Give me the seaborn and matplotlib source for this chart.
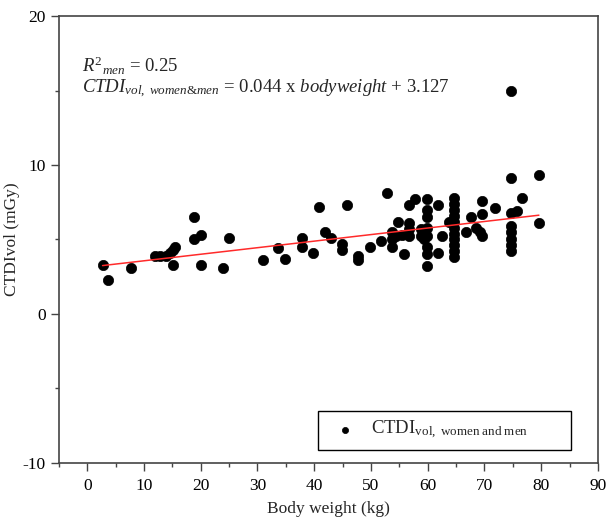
import numpy as np
import pandas as pd
import matplotlib
matplotlib.use("Agg")
import matplotlib.pyplot as plt
import seaborn as sns
from matplotlib.ticker import MultipleLocator
from matplotlib.mathtext import MathTextParser

# ---- data ----
body_weight = [2.7, 3.7, 7.7, 11.9, 12.8, 13.9, 14.6, 15.1, 15.4, 15.1,
               18.8, 18.8, 20.0, 20.0, 24.9, 23.9, 30.9, 33.7, 34.9, 37.9,
               37.9, 39.8, 40.9, 41.9, 43.0, 44.9, 44.9, 45.8, 47.7, 47.7,
               49.8, 51.8, 52.8, 53.7, 53.7, 53.7, 54.7, 55.8, 54.5, 55.5,
               56.7, 57.7, 56.7, 56.7, 56.7, 58.8, 58.8, 59.3, 59.8, 59.8,
               59.8, 59.8, 59.8, 59.8, 59.8, 59.8, 61.8, 61.8, 62.6, 63.7,
               64.7, 64.7, 64.7, 64.7, 64.7, 64.7, 64.7, 64.7, 64.7, 64.7,
               64.7, 66.7, 67.7, 68.6, 69.6, 69.6, 69.6, 69.3, 71.8, 74.7,
               74.7, 74.7, 74.7, 74.7, 74.7, 74.7, 75.8, 76.7, 79.6, 79.6,
               74.7]
ctdi_vol = [3.3, 2.3, 3.1, 3.9, 3.9, 3.9, 4.1, 4.3, 4.5, 3.3,
            6.5, 5.0, 5.3, 3.3, 5.1, 3.1, 3.6, 4.4, 3.7, 5.1,
            4.5, 4.1, 7.2, 5.5, 5.1, 4.7, 4.3, 7.3, 3.9, 3.6,
            4.5, 4.9, 8.1, 5.5, 5.0, 4.5, 6.2, 4.0, 5.2, 5.3,
            7.3, 7.7, 6.1, 5.7, 5.2, 5.7, 5.2, 5.0, 7.7, 7.0,
            6.5, 5.8, 5.2, 4.5, 4.0, 3.2, 7.3, 4.1, 5.2, 6.2,
            7.8, 7.4, 7.0, 6.6, 6.2, 5.8, 5.4, 5.0, 4.6, 4.2,
            3.8, 5.5, 6.5, 5.8, 7.6, 6.7, 5.2, 5.5, 7.1, 9.1,
            6.8, 5.9, 5.5, 5.0, 4.6, 4.2, 6.9, 7.8, 9.3, 6.1,
            15.0]
slope = 0.044
intercept = 3.127
r2_men = 0.25

x_ticks = [0, 10, 20, 30, 40, 50, 60, 70, 80, 90]
y_ticks = [-10, 0, 10, 20]

df = pd.DataFrame({"Body weight (kg)": body_weight, "CTDIvol (mGy)": ctdi_vol})

sns.set_style("ticks")
plt.rcParams["font.family"] = ["Liberation Serif", "DejaVu Serif"]
plt.rcParams["mathtext.fontset"] = "custom"
plt.rcParams["mathtext.rm"] = "Liberation Serif"
plt.rcParams["mathtext.it"] = "Liberation Serif:italic"
plt.rcParams["mathtext.bf"] = "Liberation Serif:bold"
plt.rcParams["axes.unicode_minus"] = False


def ok(s):
    try:
        MathTextParser("agg").parse(s, 72)
        return True
    except Exception:
        return False


sub_candidates = [r"$CTDI_{vol,\ women&men}$",
                  r"$CTDI_{vol,\ women\&men}$",
                  r"$CTDI_{vol,\ women\ and\ men}$"]
eq_lhs = next(c for c in sub_candidates if ok(c))

fig = plt.figure(figsize=(6.07, 5.2), dpi=100)
ax = fig.add_axes([0.097, 0.110, 0.888, 0.859])

sns.scatterplot(data=df, x="Body weight (kg)", y="CTDIvol (mGy)", ax=ax,
                color="black", edgecolor="black", s=55, linewidth=0.5,
                label=r"CTDI$_{\mathrm{vol,\ women\ and\ men}}$", zorder=3)

xl = np.array([min(body_weight), max(body_weight)])
ax.plot(xl, slope * xl + intercept, color="#ff2a2a", lw=1.1, zorder=4)

ax.set_xlim(-5, 90)
ax.set_ylim(-10, 20)
ax.set_xticks(x_ticks)
ax.set_yticks(y_ticks)
ax.xaxis.set_minor_locator(MultipleLocator(5))
ax.yaxis.set_minor_locator(MultipleLocator(5))
ax.tick_params(axis="both", which="major", direction="out", length=6,
               width=1, color="#444444", labelsize=12.5, labelcolor="black")
ax.tick_params(axis="x", which="major", pad=5)
ax.tick_params(axis="both", which="minor", direction="out", length=3,
               width=1, color="#444444")
for sp in ax.spines.values():
    sp.set_color("#444444")
    sp.set_linewidth(1.2)

ax.set_xlabel("Body weight (kg)", fontsize=12.5, labelpad=5)
ax.set_ylabel("CTDIvol (mGy)", fontsize=12.5)
ax.yaxis.set_label_coords(-0.072, 0.5)

ax.text(0.043, 0.889, r"$R^{2}{}_{men}$" + f" = {r2_men}",
        transform=ax.transAxes, fontsize=13.5, va="center", ha="left")
ax.text(0.043, 0.836,
        eq_lhs + f" = {slope} x " + r"$bodyweight$" + f" + {intercept}",
        transform=ax.transAxes, fontsize=13.5, va="center", ha="left")

leg = ax.legend(loc="lower left", bbox_to_anchor=(0.48, 0.029, 0.47, 0.078),
                mode="expand", frameon=True, fancybox=False, fontsize=13.5,
                handletextpad=0.4, borderpad=0.45, markerscale=0.6,
                borderaxespad=0)
leg.get_frame().set_edgecolor("black")
leg.get_frame().set_linewidth(1.0)
leg.get_frame().set_alpha(1)

fig.savefig("out.png", dpi=100)
